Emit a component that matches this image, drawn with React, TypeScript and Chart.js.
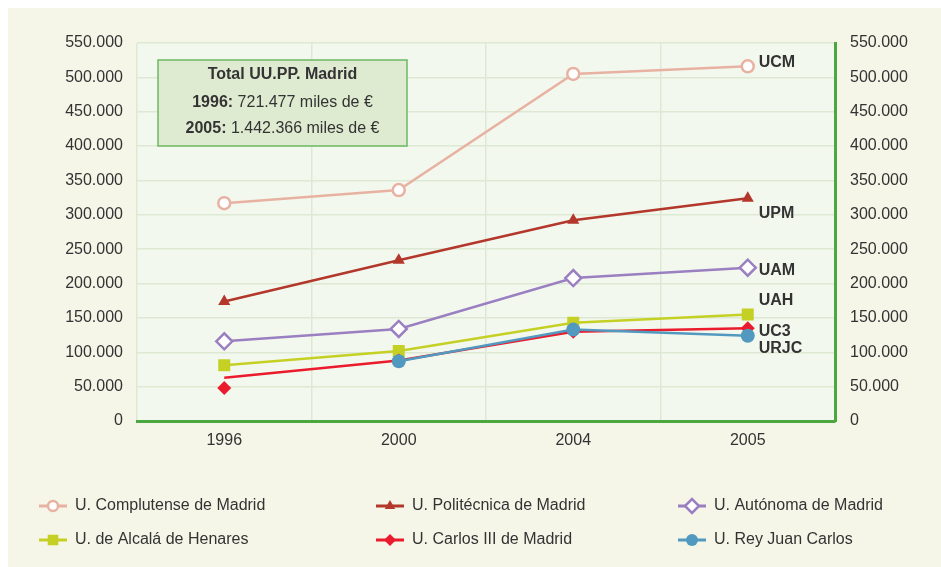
import React, { useEffect, useRef } from 'react';
import { Chart, registerables } from 'chart.js';
import { drawPoint } from 'chart.js/helpers';

Chart.register(...registerables);

// ---------- data ----------
const years = ['1996', '2000', '2004', '2005'];
const ucm = [317000, 336000, 505000, 516000];
const upm = [174000, 234000, 292000, 324000];
const uam = [116000, 134000, 208000, 223000];
const uah = [81000, 102000, 143000, 155000];
const uc3Line = [63000, 88000, 130000, 135000];
const uc3Marker1996 = [48000, null, null, null];
const urjc = [null, 87000, 133000, 124000];

const seriesNames = [
  'U. Complutense de Madrid',
  'U. Politécnica de Madrid',
  'U. Autónoma de Madrid',
  'U. de Alcalá de Henares',
  'U. Carlos III de Madrid',
  'U. Rey Juan Carlos',
];
const endLabels = ['UCM', 'UPM', 'UAM', 'UAH', 'UC3', 'URJC'];
const yMax = 550000;
const yStep = 50000;
const boxTitle = 'Total UU.PP. Madrid';
const boxLines = [
  ['1996:', ' 721.477 miles de €'],
  ['2005:', ' 1.442.366 miles de €'],
];

// ---------- styles ----------
const FONT = '"Liberation Sans", Arial, sans-serif';
const TEXT = '#333333';
const GREEN = '#4ba83f';
const styles = [
  { color: '#e8b2a2', point: 'circle', radius: 6, fill: '#ffffff', bw: 2.5, order: 5, dy: -4 },
  { color: '#b3372b', point: 'triangle', radius: 7, fill: '#b3372b', bw: 0, order: 4, dy: 15 },
  { color: '#9a7fc1', point: 'rectRot', radius: 8, fill: '#ffffff', bw: 2.5, order: 3, dy: 3 },
  { color: '#c5d024', point: 'rect', radius: 8.5, fill: '#c5d024', bw: 0, order: 2, dy: -14 },
  { color: '#ea1b2d', point: 'rectRot', radius: 7, fill: '#ea1b2d', bw: 0, order: 1, dy: 3 },
  { color: '#5299c0', point: 'circle', radius: 7, fill: '#5299c0', bw: 0, order: 0, dy: 13 },
];
const seriesData = [ucm, upm, uam, uah, uc3Line, urjc];

const fmt = (n: number) => String(n).replace(/\B(?=(\d{3})+(?!\d))/g, '.');

const bgPlugin = {
  id: 'bgPlugin',
  beforeDraw(chart: any) {
    const { ctx, chartArea: a } = chart;
    ctx.save();
    ctx.fillStyle = '#f5f6e8';
    ctx.fillRect(0, 0, chart.width, chart.height);
    ctx.fillStyle = '#f3f8ef';
    ctx.fillRect(a.left, a.top, a.right - a.left, a.bottom - a.top);
    ctx.restore();
  },
};

const overlayPlugin = {
  id: 'overlayPlugin',
  afterDraw(chart: any) {
    const { ctx, chartArea: a } = chart;
    ctx.save();
    // end labels
    ctx.font = `bold 16px ${FONT}`;
    ctx.fillStyle = TEXT;
    ctx.textBaseline = 'middle';
    ctx.textAlign = 'left';
    for (let i = 0; i < 6; i++) {
      const meta = chart.getDatasetMeta(i);
      const pt = meta.data[meta.data.length - 1];
      ctx.fillText(endLabels[i], pt.x + 11, pt.y + styles[i].dy);
    }
    // info box
    const bx = a.left + 21, by = a.top + 17, bw = 249, bh = 86;
    ctx.fillStyle = '#dfebd0';
    ctx.fillRect(bx, by, bw, bh);
    ctx.strokeStyle = '#6cb861';
    ctx.lineWidth = 1.5;
    ctx.strokeRect(bx, by, bw, bh);
    const cx = bx + bw / 2;
    ctx.fillStyle = TEXT;
    ctx.textAlign = 'center';
    ctx.font = `bold 16px ${FONT}`;
    ctx.fillText(boxTitle, cx, by + 15);
    boxLines.forEach((ln, k) => {
      const y = by + 43 + k * 26;
      ctx.font = `bold 16px ${FONT}`;
      const w1 = ctx.measureText(ln[0]).width;
      ctx.font = `16px ${FONT}`;
      const w2 = ctx.measureText(ln[1]).width;
      const x0 = cx - (w1 + w2) / 2;
      ctx.textAlign = 'left';
      ctx.font = `bold 16px ${FONT}`;
      ctx.fillText(ln[0], x0, y);
      ctx.font = `16px ${FONT}`;
      ctx.fillText(ln[1], x0 + w1, y);
      ctx.textAlign = 'center';
    });
    // legend
    const colX = [45, 382, 684];
    const rowY = [498, 532];
    ctx.textAlign = 'left';
    for (let i = 0; i < 6; i++) {
      const s = styles[i];
      const x = colX[i % 3];
      const y = rowY[Math.floor(i / 3)];
      ctx.strokeStyle = s.color;
      ctx.lineWidth = 3;
      ctx.beginPath();
      ctx.moveTo(x - 14, y);
      ctx.lineTo(x + 14, y);
      ctx.stroke();
      ctx.fillStyle = s.fill;
      ctx.strokeStyle = s.color;
      ctx.lineWidth = s.bw;
      drawPoint(ctx, { pointStyle: s.point, radius: s.radius - 1, rotation: 0, borderWidth: s.bw } as any, x, y);
      ctx.fillStyle = TEXT;
      ctx.font = `16px ${FONT}`;
      ctx.fillText(seriesNames[i], x + 22, y);
    }
    ctx.restore();
  },
};

export default function App() {
  const ref = useRef<HTMLCanvasElement>(null);
  useEffect(() => {
    document.body.style.overflow = 'hidden';
    const datasets: any[] = seriesData.map((d, i) => {
      const s = styles[i];
      return {
        label: seriesNames[i],
        data: d,
        borderColor: s.color,
        backgroundColor: s.fill,
        borderWidth: 2.5,
        pointStyle: s.point,
        pointRadius: i === 4 ? [0, s.radius, s.radius, s.radius] : s.radius,
        pointBackgroundColor: s.fill,
        pointBorderColor: s.color,
        pointBorderWidth: s.bw,
        spanGaps: false,
        order: s.order,
        tension: 0,
      };
    });
    datasets.push({
      label: 'UC3 1996',
      data: uc3Marker1996,
      showLine: false,
      borderColor: styles[4].color,
      backgroundColor: styles[4].fill,
      pointStyle: styles[4].point,
      pointRadius: styles[4].radius,
      pointBackgroundColor: styles[4].fill,
      pointBorderWidth: 0,
      order: 1,
    });
    const chart = new Chart(ref.current!, {
      type: 'line',
      data: { labels: years, datasets },
      plugins: [bgPlugin, overlayPlugin],
      options: {
        animation: false,
        responsive: false,
        maintainAspectRatio: false,
        devicePixelRatio: 1,
        layout: { padding: { top: 35, left: 0, right: 0, bottom: 0 } },
        plugins: { legend: { display: false }, tooltip: { enabled: false } },
        scales: {
          x: {
            offset: true,
            grid: { offset: true, color: '#dde9d3', lineWidth: 1.5, drawTicks: false },
            border: { color: GREEN, width: 3 },
            ticks: { color: TEXT, font: { family: FONT, size: 16 }, padding: 10 },
            afterFit: (s: any) => { s.height = 146; },
          },
          y: {
            position: 'left',
            min: 0,
            max: yMax,
            grid: { color: '#dde9d3', lineWidth: 1.5, drawTicks: false },
            border: { display: false },
            ticks: { stepSize: yStep, color: TEXT, font: { family: FONT, size: 16 }, padding: 14, callback: (v: any) => fmt(v) },
            afterFit: (s: any) => { s.width = 129; },
          },
          y2: {
            position: 'right',
            min: 0,
            max: yMax,
            grid: { drawOnChartArea: false, drawTicks: false },
            border: { color: GREEN, width: 3 },
            ticks: { stepSize: yStep, color: TEXT, font: { family: FONT, size: 16 }, padding: 15, callback: (v: any) => fmt(v) },
            afterFit: (s: any) => { s.width = 106; },
          },
        },
      },
    });
    return () => chart.destroy();
  }, []);
  return (
    <div style={{ position: 'absolute', left: 8, top: 8, width: 933, height: 559 }}>
      <canvas ref={ref} width={933} height={559} style={{ display: 'block', width: 933, height: 559 }} />
    </div>
  );
}
